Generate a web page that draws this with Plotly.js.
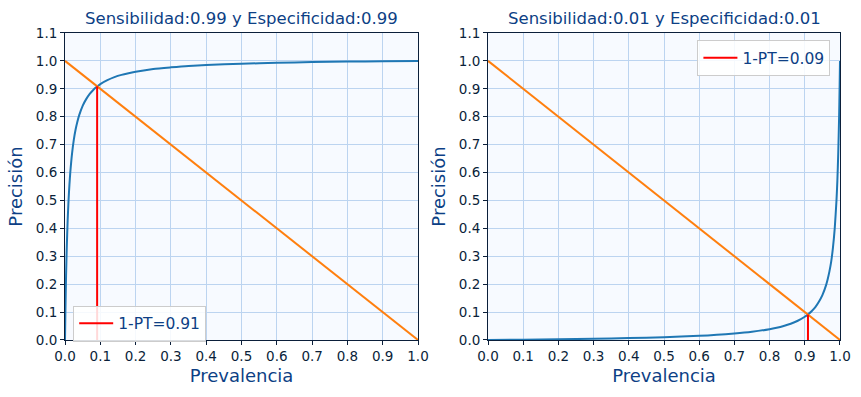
<!DOCTYPE html>
<html><head><meta charset="utf-8">
<script src="https://cdn.plot.ly/plotly-3.0.1.min.js"></script>
<style>html,body{margin:0;padding:0;background:#fff}#chart{width:861px;height:397px}</style>
</head><body><div id="chart"></div>
<script>
// Left panel: Sensibilidad 0.99, Especificidad 0.99
const prevLeft = [0, 0.001, 0.002, 0.003, 0.005, 0.0075, 0.01, 0.0125, 0.015, 0.02, 0.025, 0.03, 0.035, 0.04, 0.05, 0.06, 0.07, 0.08, 0.09, 0.1, 0.12, 0.14, 0.16, 0.18, 0.2, 0.25, 0.3, 0.35, 0.4, 0.5, 0.6, 0.7, 0.8, 0.9, 1.0];
const precLeft = [0, 0.090, 0.166, 0.230, 0.332, 0.428, 0.5, 0.556, 0.601, 0.669, 0.718, 0.754, 0.782, 0.805, 0.839, 0.863, 0.882, 0.896, 0.907, 0.917, 0.931, 0.942, 0.950, 0.956, 0.961, 0.971, 0.977, 0.982, 0.985, 0.990, 0.993, 0.996, 0.9975, 0.9989, 1.0];
// Right panel: Sensibilidad 0.01, Especificidad 0.01
const prevRight = [0, 0.1, 0.2, 0.3, 0.4, 0.5, 0.6, 0.65, 0.7, 0.75, 0.8, 0.82, 0.84, 0.86, 0.88, 0.9, 0.91, 0.92, 0.93, 0.94, 0.95, 0.96, 0.965, 0.97, 0.975, 0.98, 0.985, 0.99, 0.9925, 0.995, 0.9975, 0.999, 1.0];
const precRight = [0, 0.0011, 0.0025, 0.0043, 0.0067, 0.01, 0.0149, 0.0184, 0.023, 0.0294, 0.0388, 0.044, 0.0504, 0.0584, 0.0690, 0.0833, 0.0927, 0.104, 0.118, 0.137, 0.161, 0.195, 0.218, 0.246, 0.281, 0.331, 0.399, 0.5, 0.570, 0.668, 0.801, 0.910, 1.0];
// Diagonal 1 - prevalence
const diagX = [0, 1];
const diagY = [1, 0];
// Threshold lines
const ptLeftX = [0.091, 0.091], ptLeftY = [0, 0.909];
const ptRightX = [0.909, 0.909], ptRightY = [0, 0.091];
const legendLeft = "1-PT=0.91", legendRight = "1-PT=0.09";
const titleLeft = "Sensibilidad:0.99 y Especificidad:0.99";
const titleRight = "Sensibilidad:0.01 y Especificidad:0.01";
const xLabel = "Prevalencia", yLabel = "Precisión";
const tickVals = [0,0.1,0.2,0.3,0.4,0.5,0.6,0.7,0.8,0.9,1.0];
const yTickVals = [0,0.1,0.2,0.3,0.4,0.5,0.6,0.7,0.8,0.9,1.0,1.1];

const F = "DejaVu Sans, sans-serif";
const dark = "#0b1f3a", titleC = "#0d3f85", grid = "#bcd4f0";
const blue = "#1f77b4", orange = "#ff7f0e";

const traces = [
  {x: prevLeft, y: precLeft, mode: "lines", line:{color:blue, width:2, shape:"spline", smoothing:0.6}, showlegend:false, xaxis:"x", yaxis:"y"},
  {x: diagX, y: diagY, mode: "lines", line:{color:orange, width:2}, showlegend:false, xaxis:"x", yaxis:"y"},
  {x: ptLeftX, y: ptLeftY, mode: "lines", line:{color:"red", width:2}, name: legendLeft, legend:"legend", xaxis:"x", yaxis:"y"},
  {x: prevRight, y: precRight, mode: "lines", line:{color:blue, width:2, shape:"spline", smoothing:0.6}, showlegend:false, xaxis:"x2", yaxis:"y2"},
  {x: diagX, y: diagY, mode: "lines", line:{color:orange, width:2}, showlegend:false, xaxis:"x2", yaxis:"y2"},
  {x: ptRightX, y: ptRightY, mode: "lines", line:{color:"red", width:2}, name: legendRight, legend:"legend2", xaxis:"x2", yaxis:"y2"}
];

function xax(dom, anchor){
  return {domain: dom, anchor: anchor, range:[0,1], tickvals: tickVals, ticktext: tickVals.map(v=>v.toFixed(1)),
    showgrid:true, gridcolor:grid, gridwidth:1, zeroline:false, showline:true, linecolor:dark, linewidth:1, mirror:true,
    ticks:"outside", ticklen:4, tickcolor:dark, tickfont:{family:F, size:13.5, color:dark},
    title:{text:xLabel, font:{family:F, size:18, color:titleC}, standoff:6}};
}
function yax(anchor){
  return {domain:[0.1436, 0.9169], anchor: anchor, range:[0,1.1], tickvals: yTickVals, ticktext: yTickVals.map(v=>v.toFixed(1)),
    showgrid:true, gridcolor:grid, gridwidth:1, zeroline:false, showline:true, linecolor:dark, linewidth:1, mirror:true,
    ticks:"outside", ticklen:4, tickcolor:dark, tickfont:{family:F, size:13.5, color:dark},
    title:{text:yLabel, font:{family:F, size:18, color:titleC}, standoff:8}};
}
const legStyle = {bgcolor:"rgba(255,255,255,0.85)", bordercolor:"#cccccc", borderwidth:1, font:{family:F, size:15.5, color:titleC}, itemwidth:34};
const layout = {
  width:861, height:397, margin:{l:0,r:0,t:0,b:0}, paper_bgcolor:"#ffffff", plot_bgcolor:"#f7faff",
  xaxis: xax([0.0755,0.4855], "y"), yaxis: yax("x"),
  xaxis2: xax([0.5668,0.9756], "y2"), yaxis2: yax("x2"),
  legend: Object.assign({x:0.085, y:0.230, xanchor:"left", yanchor:"top"}, legStyle),
  legend2: Object.assign({x:0.810, y:0.899, xanchor:"left", yanchor:"top"}, legStyle),
  annotations:[
    {text:titleLeft, xref:"paper", yref:"paper", x:0.2805, y:0.925, xanchor:"center", yanchor:"bottom", showarrow:false, font:{family:F, size:16.5, color:titleC}},
    {text:titleRight, xref:"paper", yref:"paper", x:0.7712, y:0.925, xanchor:"center", yanchor:"bottom", showarrow:false, font:{family:F, size:16.5, color:titleC}}
  ],
  showlegend:true
};
Plotly.newPlot("chart", traces, layout, {displayModeBar:false, staticPlot:true});
</script></body></html>
